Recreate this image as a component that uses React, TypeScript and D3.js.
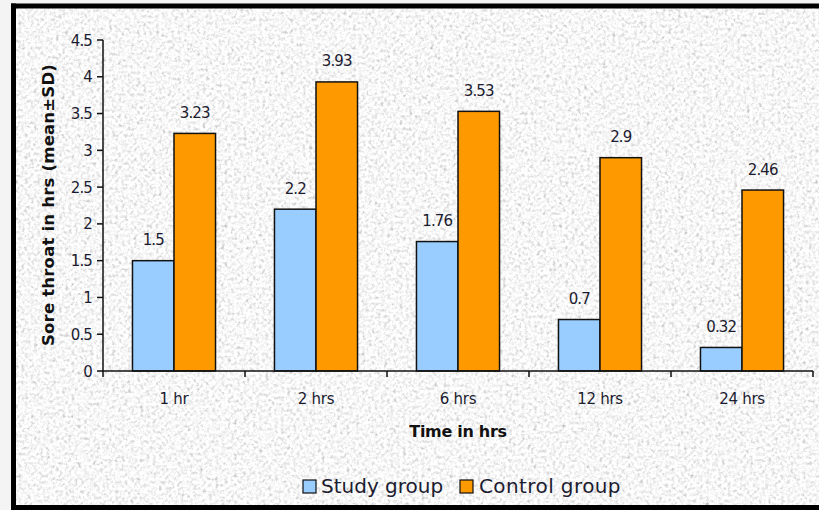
import React from "react";
import * as d3 from "d3";

// Sore throat duration (hrs, mean) at each follow-up time
const categories = ["1 hr", "2 hrs", "6 hrs", "12 hrs", "24 hrs"];
const studyValues = [1.5, 2.2, 1.76, 0.7, 0.32];
const controlValues = [3.23, 3.93, 3.53, 2.9, 2.46];
const seriesNames = ["Study group", "Control group"];
const seriesColors = ["#99CCFF", "#FF9900"];
const yTicks = [0, 0.5, 1, 1.5, 2, 2.5, 3, 3.5, 4, 4.5];

const W = 819;
const H = 510;
const plot = { left: 103, right: 813, top: 40, bottom: 371 };
const FONT = "'DejaVu Sans', Verdana, sans-serif";
const TEXT = "#1c1c30";

export default function App() {
  const x = d3
    .scaleBand<string>()
    .domain(categories)
    .range([plot.left, plot.right])
    .paddingInner(0.415)
    .paddingOuter(0.2075);
  const xSub = d3
    .scaleBand<number>()
    .domain([0, 1])
    .range([0, x.bandwidth()]);
  const y = d3.scaleLinear().domain([0, 4.5]).range([plot.bottom, plot.top]);

  const series = [studyValues, controlValues];
  const step = x.step();
  const boundaries = d3.range(categories.length + 1).map((i) => plot.left + i * step);
  const fmt = (v: number) => String(v);

  return (
    <div style={{ position: "absolute", left: 0, top: 0 }}>
      <svg width={W} height={H} style={{ display: "block" }}>
        <defs>
          {/* speckled granite backdrop */}
          <filter
            id="granite"
            filterUnits="userSpaceOnUse"
            x={13}
            y={6}
            width={W}
            height={H}
          >
            <feTurbulence type="fractalNoise" baseFrequency="0.32" numOctaves={3} seed={7} result="n" />
            <feColorMatrix
              in="n"
              type="matrix"
              values="0.5 0.5 0.5 0 0.18  0.5 0.5 0.5 0 0.18  0.5 0.5 0.5 0 0.18  0 0 0 0 1"
            />
          </filter>
        </defs>
        <rect x={0} y={0} width={W} height={H} fill="#f4f4f4" />
        <rect x={13} y={6} width={W} height={H} fill="#e8e8e8" filter="url(#granite)" />
        {/* frame */}
        <line x1={13.5} y1={3.5} x2={13.5} y2={H} stroke="#000" strokeWidth={5} />
        <line x1={11} y1={6} x2={W} y2={6} stroke="#000" strokeWidth={5} />
        <line x1={11} y1={507.5} x2={W} y2={507.5} stroke="#000" strokeWidth={5} />

        {/* bars */}
        {series.map((vals, s) =>
          vals.map((v, i) => {
            const bx = (x(categories[i]) ?? 0) + (xSub(s) ?? 0);
            return (
              <rect
                key={`b${s}-${i}`}
                x={bx}
                y={y(v)}
                width={xSub.bandwidth()}
                height={y(0) - y(v)}
                fill={seriesColors[s]}
                stroke="#111"
                strokeWidth={1.5}
              />
            );
          })
        )}

        {/* value labels */}
        {series.map((vals, s) =>
          vals.map((v, i) => {
            const cx = (x(categories[i]) ?? 0) + (xSub(s) ?? 0) + xSub.bandwidth() / 2;
            return (
              <text
                key={`l${s}-${i}`}
                x={cx}
                y={y(v) - 15.5}
                textAnchor="middle"
                fontFamily={FONT}
                fontSize={15}
                letterSpacing={-0.9}
                fill={TEXT}
              >
                {fmt(v)}
              </text>
            );
          })
        )}

        {/* y axis */}
        <line x1={plot.left} y1={plot.top} x2={plot.left} y2={plot.bottom} stroke="#111" strokeWidth={1.5} />
        {yTicks.map((t) => (
          <g key={`yt${t}`}>
            <line x1={plot.left - 6} x2={plot.left} y1={y(t)} y2={y(t)} stroke="#111" strokeWidth={1.5} />
            <text
              x={plot.left - 11}
              y={y(t) + 5.5}
              textAnchor="end"
              fontFamily={FONT}
              fontSize={15}
              letterSpacing={-0.9}
              fill={TEXT}
            >
              {fmt(t)}
            </text>
          </g>
        ))}

        {/* x axis */}
        <line x1={plot.left} y1={plot.bottom} x2={plot.right} y2={plot.bottom} stroke="#111" strokeWidth={1.5} />
        {boundaries.map((bx, i) => (
          <line key={`xt${i}`} x1={bx} x2={bx} y1={plot.bottom} y2={plot.bottom + 6} stroke="#111" strokeWidth={1.5} />
        ))}
        {categories.map((c) => (
          <text
            key={`xl${c}`}
            x={(x(c) ?? 0) + x.bandwidth() / 2}
            y={404}
            textAnchor="middle"
            fontFamily={FONT}
            fontSize={15}
            letterSpacing={-0.3}
            fill={TEXT}
          >
            {c}
          </text>
        ))}

        {/* axis titles */}
        <text
          x={(plot.left + plot.right) / 2}
          y={437}
          textAnchor="middle"
          fontFamily={FONT}
          fontSize={16}
          fontWeight="bold"
          letterSpacing={-0.3}
          fill="#111"
        >
          Time in hrs
        </text>
        <text
          transform={`translate(54, ${(65 + 345) / 2}) rotate(-90)`}
          textAnchor="middle"
          fontFamily={FONT}
          fontSize={16.5}
          fontWeight="bold"
          letterSpacing={0.2}
          fill="#111"
        >
          Sore throat in hrs (mean±SD)
        </text>

        {/* legend */}
        <g>
          <rect x={303} y={480} width={13} height={13} fill={seriesColors[0]} stroke="#111" strokeWidth={1.2} />
          <text x={321} y={493} fontFamily={FONT} fontSize={20} fill={TEXT}>
            {seriesNames[0]}
          </text>
          <rect x={460} y={480} width={13} height={13} fill={seriesColors[1]} stroke="#111" strokeWidth={1.2} />
          <text x={479} y={493} fontFamily={FONT} fontSize={20} letterSpacing={0.4} fill={TEXT}>
            {seriesNames[1]}
          </text>
        </g>
      </svg>
    </div>
  );
}
